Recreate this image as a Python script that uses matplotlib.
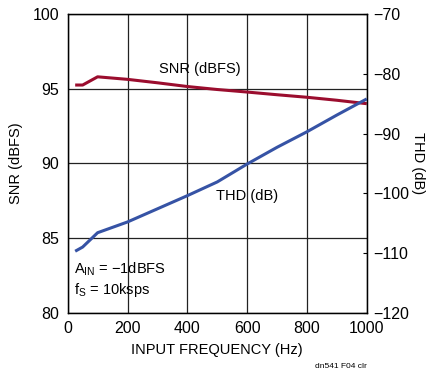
import numpy as np
import matplotlib
matplotlib.use("Agg")
import matplotlib.pyplot as plt

plt.rcParams['font.family'] = ['Liberation Sans', 'DejaVu Sans']

# data
snr_freq = [25, 50, 100, 200, 300, 400, 500, 600, 700, 800, 900, 1000]
snr_db = [95.25, 95.25, 95.8, 95.63, 95.4, 95.15, 94.95, 94.78, 94.6, 94.43, 94.23, 94.0]
thd_freq = [25, 50, 100, 200, 300, 400, 500, 600, 700, 800, 900, 1000]
thd_db = [-109.7, -109.0, -106.6, -104.8, -102.6, -100.4, -98.1, -95.1, -92.3, -89.7, -86.9, -84.2]

fig = plt.figure(figsize=(4.32, 3.71), dpi=100)
ax = fig.add_axes([0.1567, 0.157, 0.6923, 0.805])

ax.set_xlim(0, 1000)
ax.set_ylim(80, 100)
ax.set_xticks([0, 200, 400, 600, 800, 1000])
ax.set_yticks([80, 85, 90, 95, 100])
ax.grid(True, color='#222222', linewidth=0.9)
ax.tick_params(length=0, labelsize=11.5, pad=6)
for s in ax.spines.values():
    s.set_linewidth(1.0)

ax2 = ax.twinx()
ax2.set_ylim(-120, -70)
ax2.set_yticks([-120, -110, -100, -90, -80, -70])
ax2.tick_params(direction='in', length=3, labelsize=11.5, pad=5)

ax.plot(snr_freq, snr_db, color='#9b0d2e', linewidth=2.2, solid_capstyle='butt')
ax2.plot(thd_freq, thd_db, color='#3653a5', linewidth=2.2, solid_capstyle='butt')

ax.set_xlabel('INPUT FREQUENCY (Hz)', fontsize=10.5, labelpad=5)
ax.set_ylabel('SNR (dBFS)', fontsize=10.5, labelpad=7)
ax2.set_ylabel('THD (dB)', fontsize=10.5, rotation=270, labelpad=11)

ax.text(442, 95.85, 'SNR (dBFS)', fontsize=10.5, ha='center', va='bottom')
ax.text(600, 87.35, 'THD (dB)', fontsize=10.5, ha='center', va='bottom')
ax.text(20, 82.3, r'A$_{\mathregular{IN}}$ = −1dBFS', fontsize=10.5, ha='left', va='bottom')
ax.text(20, 80.9, r'f$_{\mathregular{S}}$ = 10ksps', fontsize=10.5, ha='left', va='bottom')

fig.text(0.85, 0.003, 'dn541 F04 clr', fontsize=6, ha='right', va='bottom')

fig.savefig('out.png', dpi=100)
